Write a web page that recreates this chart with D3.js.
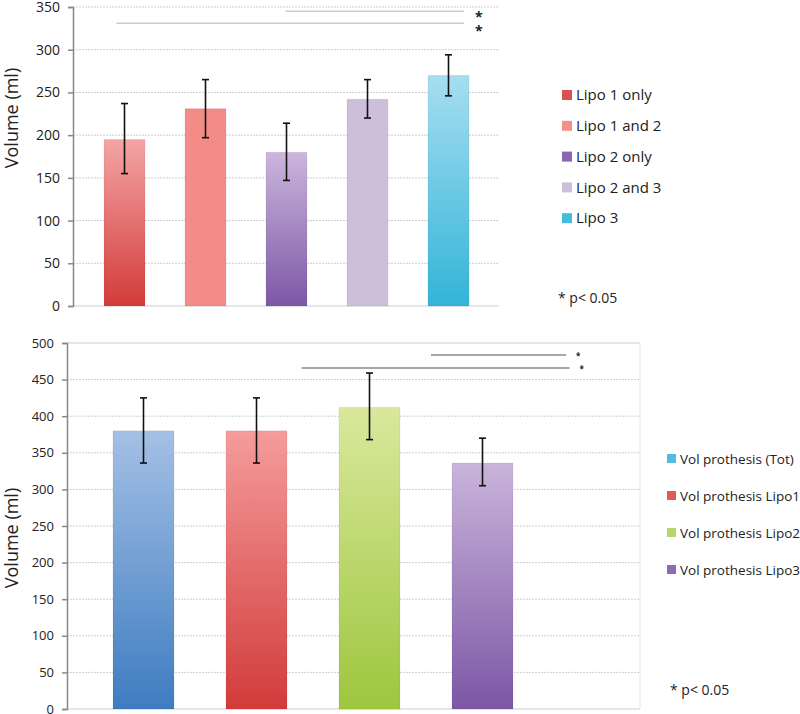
<!DOCTYPE html>
<html><head><meta charset="utf-8">
<script src="https://cdn.jsdelivr.net/npm/d3@7"></script>
<style>body{margin:0;background:#fff}text{font-family:"Open Sans",sans-serif;fill:#222}</style>
</head><body><svg id="c" width="800" height="714"></svg>
<script>
// ---------- data ----------
const topCategories = ["Lipo 1 only","Lipo 1 and 2","Lipo 2 only","Lipo 2 and 3","Lipo 3"];
const topMeans = [195, 231, 180, 242, 270];
const topLow   = [155, 197, 147, 220, 246];
const topHigh  = [237, 265, 214, 265, 294];
const topTicks = [0,50,100,150,200,250,300,350];
const topColorsTop    = ["#f5a4a4","#f38c87","#cbb6dc","#cdbfda","#a6def0"];
const topColorsBottom = ["#d13c3a","#f38c87","#7d57a7","#cdbfda","#33b4d8"];
const topLegendColors = ["#d9504f","#f58f89","#8a67b1","#cdbfda","#45bcdc"];
// significance brackets: [start (category index units), end, level]
const topSig = [[1.99, 4.19, 345], [-0.10, 4.19, 331]];

const botCategories = ["Vol prothesis (Tot)","Vol prothesis Lipo1","Vol prothesis Lipo2","Vol prothesis Lipo3"];
const botMeans = [380, 380, 412, 336];
const botLow   = [336, 336, 368, 305];
const botHigh  = [425, 425, 459, 370];
const botTicks = [0,50,100,150,200,250,300,350,400,450,500];
const botColorsTop    = ["#a4c0e5","#f59c9c","#d9e89c","#c9b4db"];
const botColorsBottom = ["#3e7cc1","#d23b3a","#9ec63e","#7c57a5"];
const botLegendColors = ["#4fbde0","#e05a5a","#b6d56c","#8c6bb4"];
const botSig = [[2.544, 3.74, 483.5], [1.40, 3.77, 466]];

const svg = d3.select("#c");
const defs = svg.append("defs");

function drawChart(o){
  const g = svg.append("g");
  const y = d3.scaleLinear().domain([0, o.ymax]).range([o.y0, o.y1]);
  const x = d3.scaleBand().domain(o.cats).range(o.xr).paddingInner(o.pi).paddingOuter(o.pi/2);
  const xi = d3.scaleLinear().domain([0,1]).range([x(o.cats[0])+x.bandwidth()/2, x(o.cats[1])+x.bandwidth()/2]);

  // gridlines
  g.append("g").selectAll("line").data(o.ticks.filter(t=>t>0)).join("line")
    .attr("x1", o.axisX).attr("x2", o.right).attr("y1", d=>y(d)).attr("y2", d=>y(d))
    .attr("stroke", "#cfcfcf").attr("stroke-width", 1)
    .attr("stroke-dasharray", d => (o.topSolid && d===o.ymax) ? null : "2,1");
  // baseline
  g.append("line").attr("x1", o.axisX).attr("x2", o.right).attr("y1", y(0)).attr("y2", y(0))
    .attr("stroke", "#cfcfcf").attr("stroke-width", 1);
  if (o.rightBorder) g.append("line").attr("x1", o.right).attr("x2", o.right).attr("y1", y(o.ymax)).attr("y2", y(0))
    .attr("stroke", "#e4e4e4");

  // axis
  const ax = g.append("g").attr("transform", `translate(${o.axisX},0)`)
    .call(d3.axisLeft(y).tickValues(o.ticks).tickSize(5).tickPadding(8));
  ax.select(".domain").attr("stroke", "#888").attr("stroke-width", 1.5);
  ax.selectAll(".tick line").attr("stroke", "#888").attr("stroke-width", 1.5);
  ax.selectAll(".tick text").attr("font-size", o.tickFont).attr("fill", "#222")
    .attr("font-family", o.tickFamily);

  // y label
  g.append("text").attr("transform", `translate(${o.labelX},${o.labelY}) rotate(-90)`)
    .attr("text-anchor", "middle").attr("font-size", 18).text("Volume (ml)");

  // gradients
  o.cats.forEach((c,i)=>{
    const gr = defs.append("linearGradient").attr("id", o.id+"g"+i).attr("x1",0).attr("y1",0).attr("x2",0).attr("y2",1);
    gr.append("stop").attr("offset","0%").attr("stop-color", o.cTop[i]);
    gr.append("stop").attr("offset","100%").attr("stop-color", o.cBot[i]);
  });

  // bars
  g.append("g").selectAll("rect").data(o.cats).join("rect")
    .attr("x", d=>x(d)).attr("width", x.bandwidth())
    .attr("y", (d,i)=>y(o.means[i])).attr("height", (d,i)=>y(0)-y(o.means[i]))
    .attr("fill", (d,i)=>`url(#${o.id}g${i})`)
    .attr("stroke", "rgba(0,0,0,0.06)").attr("stroke-width", 1);

  // error bars
  const eb = g.append("g").attr("stroke", "#111").attr("stroke-width", 1.6);
  o.cats.forEach((c,i)=>{
    const cx = x(c)+x.bandwidth()/2;
    eb.append("line").attr("x1",cx).attr("x2",cx).attr("y1",y(o.low[i])).attr("y2",y(o.high[i]));
    eb.append("line").attr("x1",cx-3.5).attr("x2",cx+3.5).attr("y1",y(o.low[i])).attr("y2",y(o.low[i]));
    eb.append("line").attr("x1",cx-3.5).attr("x2",cx+3.5).attr("y1",y(o.high[i])).attr("y2",y(o.high[i]));
  });

  // significance
  o.sig.forEach((s,k)=>{
    g.append("line").attr("x1", xi(s[0])).attr("x2", xi(s[1])).attr("y1", y(s[2])).attr("y2", y(s[2]))
      .attr("stroke", o.sigColor).attr("stroke-width", 1.5);
    if (o.sigDot) {
      g.append("text").attr("x", xi(s[1])+o.starDx).attr("y", y(s[2])+4).attr("font-size", 8)
        .attr("font-weight","bold").attr("fill","#111").text("*");
    } else {
      g.append("text").attr("x", xi(s[1])+o.starDx).attr("y", y(s[2])+11+k*2).attr("font-size", 14)
        .attr("font-weight","bold").attr("fill","#222").text("*");
    }
  });

  // legend
  const lg = g.append("g");
  o.cats.forEach((c,i)=>{
    const ly = o.legY + i*o.legStep;
    lg.append("rect").attr("x", o.legX).attr("y", ly-5).attr("width", o.sw).attr("height", o.sw).attr("fill", o.legC[i]);
    lg.append("text").attr("x", o.legX+o.sw+4).attr("y", ly).attr("dy","0.35em")
      .attr("font-size", o.legFont).attr("font-family", o.legFamily).text(c);
  });
  g.append("text").attr("x", o.pX).attr("y", o.pY).attr("dy","0.35em").attr("font-size", 14)
    .attr("font-family", o.legFamily).text("* p< 0.05");
}

drawChart({id:"t", cats: topCategories, means: topMeans, low: topLow, high: topHigh, ticks: topTicks,
  ymax: 350, y0: 306, y1: 7, xr: [84, 489], pi: 0.494, axisX: 73, right: 499, tickFont: 14,
  tickFamily: '"Open Sans",sans-serif',
  labelX: 18, labelY: 118, cTop: topColorsTop, cBot: topColorsBottom, legC: topLegendColors,
  sig: topSig, sigColor: "#cccccc", sigDot: false, starDx: 11,
  legX: 562, legY: 95, legStep: 30.8, sw: 10, legFont: 15, legFamily: '"Open Sans",sans-serif', pX: 558, pY: 298});

drawChart({id:"b", cats: botCategories, means: botMeans, low: botLow, high: botHigh, ticks: botTicks,
  ymax: 500, y0: 709, y1: 343, xr: [87, 539], pi: 0.46, axisX: 67, right: 640, tickFont: 13, topSolid: true,
  tickFamily: 'Lato,sans-serif', rightBorder: true,
  labelX: 18, labelY: 538, cTop: botColorsTop, cBot: botColorsBottom, legC: botLegendColors,
  sig: botSig, sigColor: "#8a8a8a", sigDot: true, starDx: 10,
  legX: 667, legY: 459, legStep: 37, sw: 9, legFont: 13.5, legFamily: 'Lato,sans-serif', pX: 670, pY: 690});
</script></body></html>
